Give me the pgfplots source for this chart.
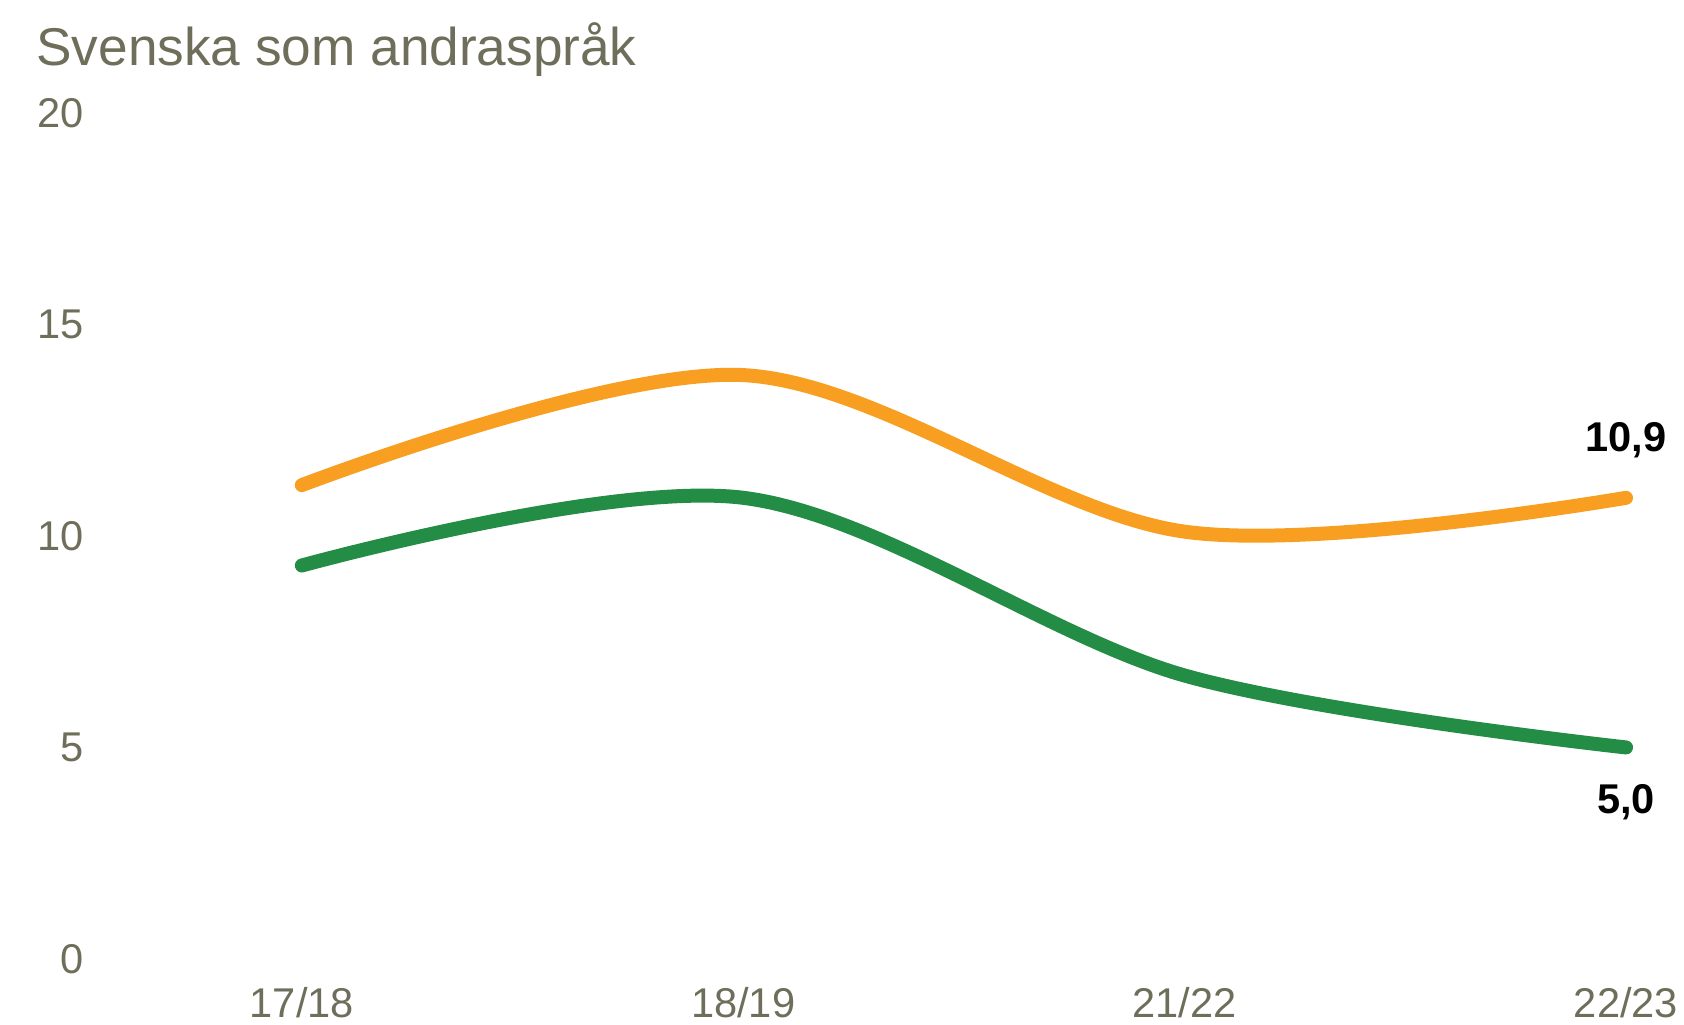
\documentclass[border=0pt]{standalone}
\usepackage{pgfplots}
\pgfplotsset{compat=1.18}
\usepackage{fontspec}
\setmainfont{Liberation Sans}
\definecolor{txtgrey}{HTML}{6E6E5A}
\definecolor{orangeL}{HTML}{F89F22}
\definecolor{greenL}{HTML}{238C45}
\begin{document}
\begin{tikzpicture}
\begin{axis}[
  scale only axis,
  width=791pt, height=423.1pt,
  xmin=-0.4617, xmax=3.1223,
  ymin=0, ymax=20,
  axis line style={draw=none},
  tick style={draw=none},
  major tick length=0pt,
  xtick={0,1,2,3},
  xticklabels={17/18,18/19,21/22,22/23},
  ytick={0,5,10,15,20},
  /pgf/number format/assume math mode=true,
  tick label style={font=\fontsize{20.8pt}{24pt}\selectfont, text=txtgrey, inner sep=0pt},
  xticklabel style={anchor=north, yshift=-14pt},
  yticklabel style={anchor=east, xshift=-7pt},
  clip=false,
]
\addplot[orangeL, line width=7pt, line cap=round, smooth, tension=0.55] coordinates {(0,11.2) (1,13.8) (2,10.1) (3,10.9)};
\addplot[greenL, line width=7pt, line cap=round, smooth, tension=0.55] coordinates {(0,9.3) (1,10.9) (2,6.7) (3,5.0)};
\node[font=\fontsize{20.8pt}{24pt}\selectfont\bfseries, anchor=center, yshift=29pt] at (axis cs:3,10.9) {10,9};
\node[font=\fontsize{20.8pt}{24pt}\selectfont\bfseries, anchor=center, yshift=-27.5pt] at (axis cs:3,5.0) {5,0};
\node[font=\fontsize{26.6pt}{30pt}\selectfont, text=txtgrey, anchor=base west, inner sep=0pt] at ([xshift=-31pt, yshift=23.4pt]rel axis cs:0,1) {Svenska som andraspråk};
\end{axis}
\pgfresetboundingbox
\path ([xshift=-49pt,yshift=-33pt]current axis.south west) rectangle ([xshift=2pt,yshift=56.4pt]current axis.north east);
\end{tikzpicture}
\end{document}
